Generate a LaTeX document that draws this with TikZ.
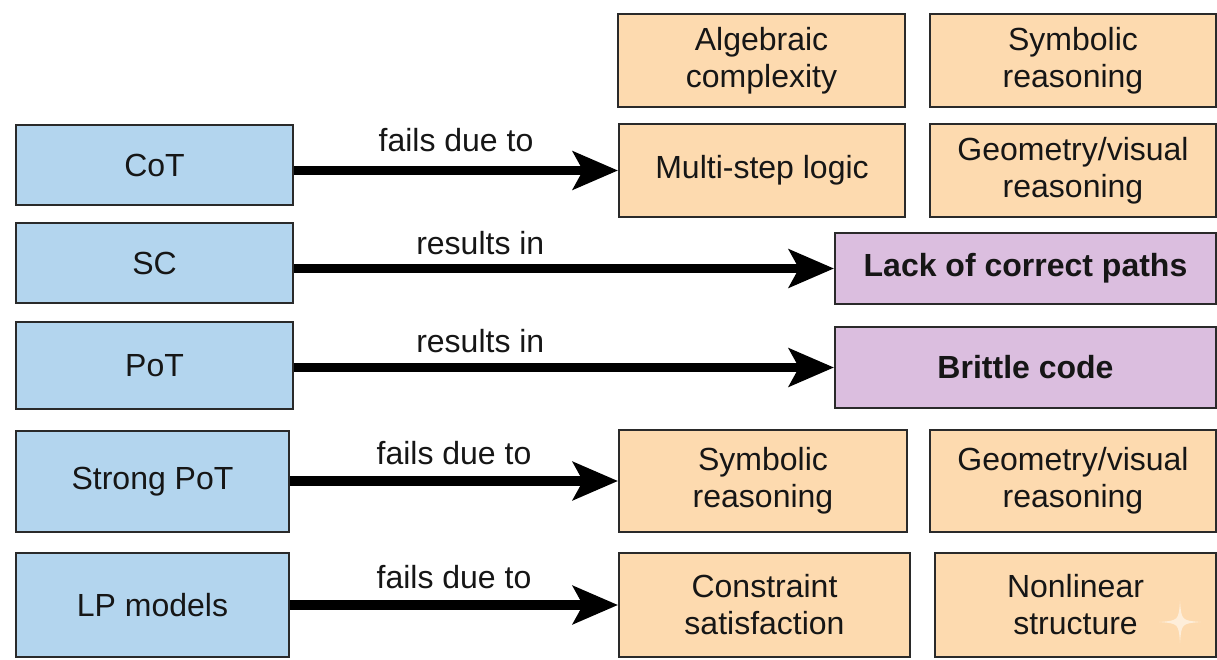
\documentclass[tikz,border=0pt]{standalone}
\usepackage{fontspec}
\setmainfont{Liberation Sans}
\usetikzlibrary{arrows.meta,calc}

\definecolor{modelblue}{RGB}{179,213,238}
\definecolor{causeorange}{RGB}{253,218,175}
\definecolor{effectpurple}{RGB}{219,190,223}
\definecolor{edgegray}{RGB}{42,42,42}
\definecolor{inkblack}{RGB}{22,22,22}

\begin{document}
\begin{tikzpicture}[x=1pt,y=1pt,
  box/.style={draw=edgegray, line width=2pt, text=inkblack, align=center,
              inner sep=0pt, font=\fontsize{32}{37}\selectfont},
  model/.style={box, fill=modelblue},
  cause/.style={box, fill=causeorange},
  effect/.style={box, fill=effectpurple, font=\fontsize{32}{37}\selectfont\bfseries},
  link/.style={line width=9.3pt, draw=black,
               -{Stealth[length=45pt,width=38pt,inset=10pt]}},
  lbl/.style={anchor=base, text=inkblack, font=\fontsize{32}{37}\selectfont}]

% canvas
\path[use as bounding box, fill=white] (0,0) rectangle (1217,-660);

% methods (left column)
\node[model, minimum width=277pt, minimum height=80pt]  (cot)   at (154.5,-165)   {CoT};
\node[model, minimum width=277pt, minimum height=80pt]  (sc)    at (154.5,-263)   {SC};
\node[model, minimum width=277pt, minimum height=87pt]  (pot)   at (154.5,-365.5) {PoT};
\node[model, minimum width=273pt, minimum height=101pt] (spot)  at (152.5,-481.5) {Strong PoT};
\node[model, minimum width=273pt, minimum height=104pt] (lp)    at (152.5,-605)   {LP models};

% failure causes
\node[cause, minimum width=287pt, minimum height=93pt]  (alg)   at (761.5,-60.5)  {Algebraic\\complexity};
\node[cause, minimum width=286pt, minimum height=93pt]  (symA)  at (1073,-60.5)   {Symbolic\\reasoning};
\node[cause, minimum width=286pt, minimum height=93pt]  (multi) at (762,-170.5)   {Multi-step logic};
\node[cause, minimum width=286pt, minimum height=93pt]  (geoA)  at (1073,-170.5)  {Geometry/visual\\reasoning};
\node[cause, minimum width=288pt, minimum height=102pt] (symB)  at (763,-481)     {Symbolic\\reasoning};
\node[cause, minimum width=286pt, minimum height=102pt] (geoB)  at (1073,-481)    {Geometry/visual\\reasoning};
\node[cause, minimum width=291pt, minimum height=104pt] (cons)  at (764.5,-605)   {Constraint\\satisfaction};
\node[cause, minimum width=281pt, minimum height=104pt] (nonl)  at (1075.5,-605)  {Nonlinear\\structure};

% outcomes
\node[effect, minimum width=381pt, minimum height=71pt] (lack)    at (1025.5,-268.5) {Lack of correct paths};
\node[effect, minimum width=381pt, minimum height=81pt] (brittle) at (1025.5,-367.5) {Brittle code};

% connectors
\draw[link] (cot.east |- multi.west) -- node[lbl, pos=0.5,   yshift=19pt] {fails due to} (multi.west);
\draw[link] (sc.east |- lack.west)   -- node[lbl, pos=0.345, yshift=14pt] {results in}   (lack.west);
\draw[link] (pot.east |- brittle.west) -- node[lbl, pos=0.345, yshift=15pt] {results in} (brittle.west);
\draw[link] (spot.east |- symB.west) -- node[lbl, pos=0.5,   yshift=17pt] {fails due to} (symB.west);
\draw[link] (lp.east |- cons.west)   -- node[lbl, pos=0.5,   yshift=17pt] {fails due to} (cons.west);

% faint sparkle mark
\fill[white, opacity=0.55]
  (1180,-601) .. controls (1181.5,-620.5) .. (1201,-622)
  .. controls (1181.5,-623.5) .. (1180,-643)
  .. controls (1178.5,-623.5) .. (1159,-622)
  .. controls (1178.5,-620.5) .. (1180,-601) -- cycle;
\end{tikzpicture}
\end{document}
